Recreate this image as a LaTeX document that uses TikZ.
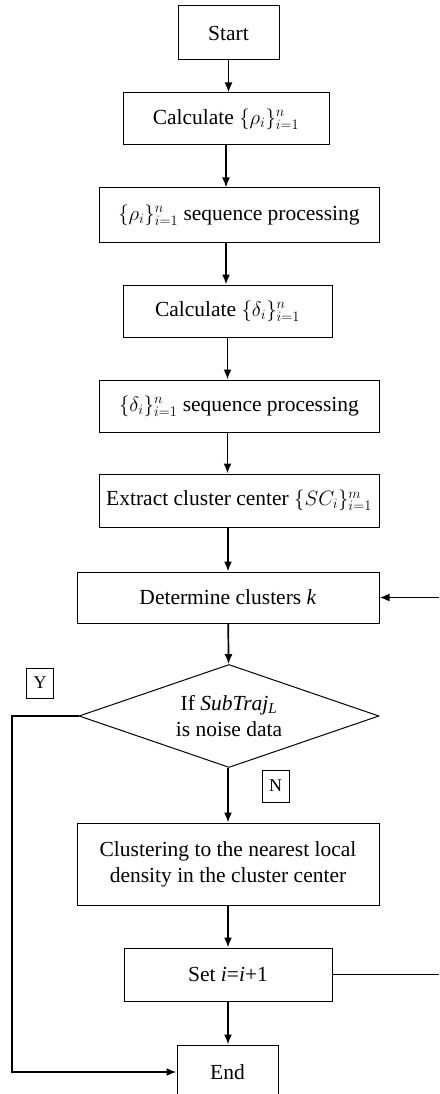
\documentclass[tikz,border=0pt]{standalone}
\usepackage{amsmath,amssymb}
\usepackage{fontspec}
\setmainfont{Liberation Serif}
\usepackage{tikz}
\usetikzlibrary{shapes,arrows.meta}
\tikzset{blk/.style={rectangle,draw,line width=1pt,inner sep=0pt,align=center,font=\fontsize{21.5}{26}\selectfont}}
\tikzset{dmd/.style={diamond,draw,line width=1pt,inner sep=0pt,aspect=2.9,align=center,font=\fontsize{21.5}{26}\selectfont}}
\tikzset{yn/.style={rectangle,draw,line width=0.8pt,inner sep=0pt,minimum width=27pt,minimum height=30pt,font=\fontsize{18}{18}\selectfont}}

\begin{document}
\begin{tikzpicture}[x=1pt,y=-1pt,>={Latex[length=10pt,width=8pt]}]
        \useasboundingbox (0,0) rectangle (439,1094);
        \node[blk,minimum width=101pt,minimum height=54pt] (start)at (228.5,33) {Start};
        \node[blk,minimum width=206pt,minimum height=52pt] (calc1)at (226,119) {Calculate $\{\rho_i\}_{i=1}^{n}$};
        \node[blk,minimum width=280pt,minimum height=54pt] (seq1)at (239,215) {$\{\rho_i\}_{i=1}^{n}$ sequence processing};
        \node[blk,minimum width=209pt,minimum height=52pt] (calc2)at (227.5,311) {Calculate $\{\delta_i\}_{i=1}^{n}$};
        \node[blk,minimum width=280pt,minimum height=52pt] (seq2)at (239,406) {$\{\delta_i\}_{i=1}^{n}$ sequence processing};
        \node[blk,minimum width=280pt,minimum height=53pt] (extr)at (239,500.5) {Extract cluster center $\{SC_i\}_{i=1}^{m}$};
        \node[blk,minimum width=302pt,minimum height=51pt] (det)at (228,597.5) {Determine clusters \textit{k}};
        \node[dmd,minimum width=300pt,minimum height=103pt] (noise)at (229,716) {If \textit{SubTraj\textsubscript{L}}\\is noise data};
        \node[yn] (yes)at (40,683) {Y};
        \node[yn,minimum height=32pt] (no)at (275.5,786) {N};
        \node[blk,minimum width=302pt,minimum height=82pt] (clus)at (228,864) {Clustering to the nearest local\\density in the cluster center};
        \node[blk,minimum width=208pt,minimum height=53pt] (seti)at (228,974.5) {Set \textit{i}=\textit{i}+1};
        \node[blk,minimum width=101pt,minimum height=54pt] (end)at (227.5,1072) {End};

        \coordinate (r1) at (439,597.5);
        \coordinate (r2) at (439,974.5);
        \coordinate (l1) at (12,716);
        \coordinate (l2) at (12,1072);

        \draw [->,line width=1.7pt] (start) to (start |- calc1.north);
        \draw [->,line width=1.7pt] (calc1) to (calc1 |- seq1.north);
        \draw [->,line width=1.7pt] (calc1.south |- seq1.south) to (calc1.south |- calc2.north);
        \draw [->,line width=1.7pt] (calc2) to (calc2 |- seq2.north);
        \draw [->,line width=1.7pt] (calc2.south |- seq2.south) to (calc2.south |- extr.north);
        \draw [->,line width=1.7pt] (det.south |- extr.south) to (det);
        \draw [->,line width=1.7pt] (det) to (noise);
        \draw [->,line width=1.7pt] (det.south |- noise.south) to (clus);
        \draw [->,line width=1.7pt] (clus) to (seti);
        \draw [->,line width=1.7pt] (seti) to (seti.south |- end.north);
        \draw [->,line width=1.7pt] (r1) to (det);
        \draw [line width=1.7pt] (seti) to (r2);
        \draw [->,line width=1.7pt] (noise.west) to (l1) to (l2) to (end);
    \end{tikzpicture}
\end{document}
